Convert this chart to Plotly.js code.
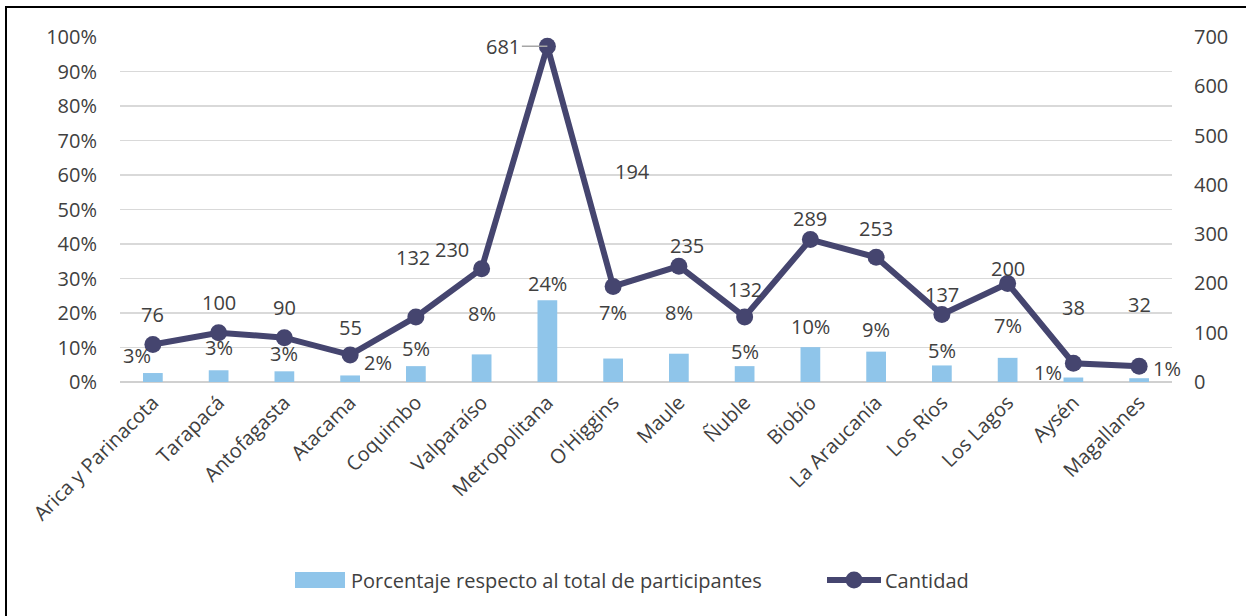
<!DOCTYPE html>
<html>
<head>
<meta charset="utf-8">
<script src="https://cdn.plot.ly/plotly-3.0.1.min.js"></script>
<style>
html,body{margin:0;padding:0;background:#fff;overflow:hidden;}
#chart{width:1246px;height:616px;}
#frame{position:absolute;left:5px;top:6px;width:1400px;height:800px;border:2px solid #000;pointer-events:none;}
</style>
</head>
<body>
<div id="chart"></div>
<div id="frame"></div>
<script>
const categories = ['Arica y Parinacota','Tarapacá','Antofagasta','Atacama','Coquimbo','Valparaíso','Metropolitana',"O'Higgins",'Maule','Ñuble','Biobío','La Araucanía','Los Ríos','Los Lagos','Aysén','Magallanes'];
const cantidad = [76,100,90,55,132,230,681,194,235,132,289,253,137,200,38,32];
const porcentaje = [0.026,0.034,0.031,0.019,0.046,0.080,0.237,0.068,0.082,0.046,0.101,0.088,0.048,0.070,0.013,0.011];
const leftTicks = [0,0.1,0.2,0.3,0.4,0.5,0.6,0.7,0.8,0.9,1.0];
const rightTicks = [0,100,200,300,400,500,600,700];
const seriesNames = ['Porcentaje respecto al total de participantes','Cantidad'];

// label offsets in pixels [dx, dy]; leader marks labels drawn with a leader line
const cantShift = [[0,30],[0,30],[0,30],[0,27],[-3,59],[-30,19],[-38,0],[19,115],[8,21],[0,27],[0,21],[0,29],[0,20],[0,15],[0,56],[0,62]];
const cantLeader = [false,false,false,false,false,false,true,false,false,false,false,false,false,false,false,false];
const pctShift = [[-16,18],[0,23],[0,18],[28,13],[0,18],[0,41],[0,17],[0,46],[0,41],[0,15],[0,21],[0,22],[0,15],[0,32],[-25,5],[28,10]];

const textColor = '#404040';
const barColor = '#8fc5ea';
const lineColor = '#45456f';
const fnt = {family:'Open Sans, sans-serif', size:20, color:textColor};

const barTrace = {
  type:'bar', x:categories, y:porcentaje, name:seriesNames[0],
  marker:{color:barColor}, width:0.3, yaxis:'y', hoverinfo:'skip', showlegend:false
};
const lineTrace = {
  type:'scatter', mode:'lines+markers', x:categories, y:cantidad, name:seriesNames[1], yaxis:'y2',
  line:{color:lineColor, width:6}, marker:{color:lineColor, size:17}, hoverinfo:'skip', showlegend:false
};

const annotations = [];
categories.forEach((c,i)=>{
  if (cantLeader[i]) {
    annotations.push({x:c, y:cantidad[i], xref:'x', yref:'y2', text:String(cantidad[i]), showarrow:true,
      ax:cantShift[i][0]-6, ay:-cantShift[i][1], arrowhead:0, arrowwidth:1.5, arrowcolor:'#a6a6a6', standoff:0, font:fnt,
      xanchor:'center'});
  } else {
    annotations.push({x:c, y:cantidad[i], xref:'x', yref:'y2', text:String(cantidad[i]), showarrow:false,
      xshift:cantShift[i][0], yshift:cantShift[i][1], font:fnt});
  }
  annotations.push({x:c, y:porcentaje[i], xref:'x', yref:'y', text:Math.round(porcentaje[i]*100)+'%', showarrow:false,
    xshift:pctShift[i][0], yshift:pctShift[i][1], font:fnt});
});

// custom legend (paper coordinates; plot area 120..1172 px wide, 37..382 px tall)
const plotL = 120, plotW = 1052, plotB = 382, plotH = 345;
const px = v => (v - plotL) / plotW;
const py = v => (plotB - v) / plotH;
const legY = 580;
annotations.push({xref:'paper', yref:'paper', x:px(349), y:py(legY), xanchor:'left', yanchor:'middle', showarrow:false, text:seriesNames[0], font:fnt});
annotations.push({xref:'paper', yref:'paper', x:px(883), y:py(legY), xanchor:'left', yanchor:'middle', showarrow:false, text:seriesNames[1], font:fnt});
const shapes = [
  {type:'rect', xref:'paper', yref:'paper', x0:px(295), x1:px(345), y0:py(572), y1:py(588), fillcolor:barColor, line:{width:0}},
  {type:'line', xref:'paper', yref:'paper', x0:px(827), x1:px(881), y0:py(legY), y1:py(legY), line:{color:lineColor, width:6}},
  {type:'circle', xref:'paper', yref:'paper', x0:px(845.5), x1:px(862.5), y0:py(legY-8.5), y1:py(legY+8.5), fillcolor:lineColor, line:{width:0}}
];

const layout = {
  width:1246, height:616,
  margin:{l:120, r:74, t:37, b:234, autoexpand:false},
  paper_bgcolor:'#fff', plot_bgcolor:'#fff',
  font:fnt,
  showlegend:false,
  xaxis:{tickangle:-45, tickfont:fnt, showgrid:false, zeroline:false, showline:false, ticks:'', ticklabelstandoff:4,
         automargin:false, range:[-0.5,15.5]},
  yaxis:{range:[0,1], tickvals:leftTicks, tickformat:'.0%', tickfont:fnt, showgrid:true, gridcolor:'#d9d9d9', gridwidth:1.5,
         zeroline:true, zerolinecolor:'#d0d0d0', zerolinewidth:2, showline:false, ticks:'', ticklabelstandoff:22, automargin:false},
  yaxis2:{range:[0,700], tickvals:rightTicks, overlaying:'y', side:'right', tickfont:fnt, showgrid:false, zeroline:false,
          showline:false, ticks:'', ticklabelstandoff:21, automargin:false},
  annotations:annotations,
  shapes:shapes,
  bargap:0.7
};

Plotly.newPlot('chart',[barTrace,lineTrace],layout,{staticPlot:true, displayModeBar:false});
</script>
</body>
</html>
